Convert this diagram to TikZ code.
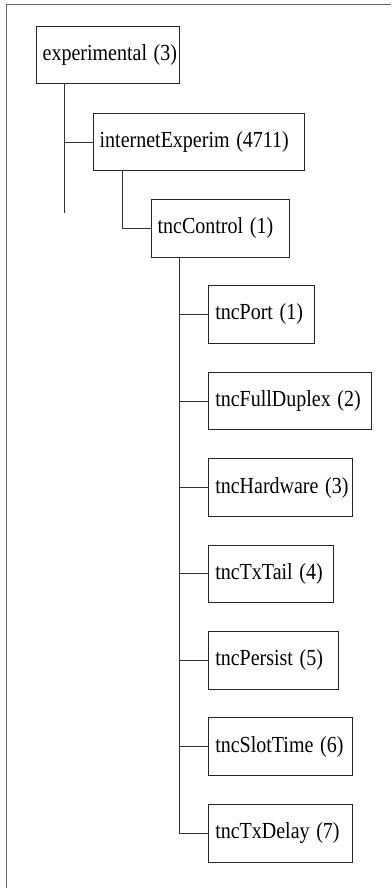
\documentclass[tikz,border=0pt]{standalone}
\usepackage{fontspec}
\setmainfont{Liberation Serif}
\newcommand\lbl[1]{\scalebox{1}[1.15]{#1}}
\begin{document}
\begin{tikzpicture}[x=1pt,y=-1pt,
  box/.style={draw=black!85, line width=0.9pt, rectangle, anchor=west, minimum height=57.5pt,
    inner xsep=6.5pt, inner ysep=0pt, align=left, font=\fontsize{20}{24}\selectfont},
  conn/.style={draw=black!80, line width=0.9pt},
  frame/.style={draw=black!60, line width=1.4pt}]
\useasboundingbox (0,0) rectangle (391,888);
\draw[frame] (391,4.7) -- (6.3,4.7) -- (6.3,888);
\node[box, text width=130.6pt] (exp) at (35.7,54.8) {\lbl{experimental (3)}};
\node[box, text width=198.3pt] (inet) at (92.7,142) {\lbl{internetExperim (4711)}};
\node[box, text width=125.6pt] (ctl) at (150.7,228.3) {\lbl{tncControl (1)}};
\node[box, text width=92.4pt] (port) at (208.3,314.3) {\lbl{tncPort (1)}};
\node[box, text width=150pt] (fdx) at (208.3,401) {\lbl{tncFullDuplex (2)}};
\node[box, text width=131pt] (hw) at (208.3,487.5) {\lbl{tncHardware (3)}};
\node[box, text width=111.7pt] (txt) at (208.3,573.8) {\lbl{tncTxTail (4)}};
\node[box, text width=116.7pt] (per) at (208.3,660.3) {\lbl{tncPersist (5)}};
\node[box, text width=131pt] (slot) at (208.3,746.5) {\lbl{tncSlotTime (6)}};
\node[box, text width=131pt] (txd) at (208.3,833.2) {\lbl{tncTxDelay (7)}};
\coordinate (expend) at (64.3,213);
\draw[conn] (exp.south -| expend) -- (expend);
\draw[conn] (inet.west -| expend) -- (inet.west);
\draw[conn] (inet.south -| 122,0) -- (ctl.west -| 122,0) -- (ctl.west);
\foreach \n in {port,fdx,hw,txt,per,slot,txd}{
  \draw[conn] (\n.west -| 179.3,0) -- (\n.west);
}
\draw[conn] (ctl.south -| 179.3,0) -- (txd.west -| 179.3,0);
\end{tikzpicture}
\end{document}
